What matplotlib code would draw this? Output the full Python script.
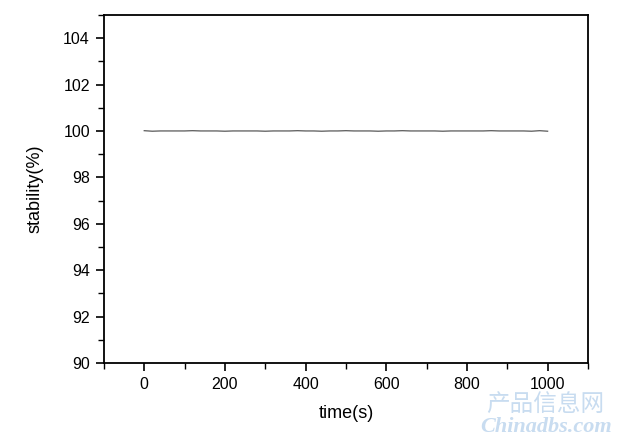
import numpy as np
import matplotlib.pyplot as plt
from matplotlib.ticker import MultipleLocator

# time (s) and stability (%)
time_s = [0, 20, 40, 60, 80, 100, 120, 140, 160, 180, 200, 220, 240, 260, 280,
          300, 320, 340, 360, 380, 400, 420, 440, 460, 480, 500, 520, 540, 560,
          580, 600, 620, 640, 660, 680, 700, 720, 740, 760, 780, 800, 820, 840,
          860, 880, 900, 920, 940, 960, 980, 1000]
stability = [100.01, 99.99, 100.00, 100.00, 100.00, 100.00, 100.01, 100.00, 100.00,
             100.00, 99.99, 100.00, 100.00, 100.00, 100.00, 99.99, 100.00, 100.00,
             100.00, 100.01, 100.00, 100.00, 99.99, 100.00, 100.00, 100.01, 100.00,
             100.00, 100.00, 99.99, 100.00, 100.00, 100.01, 100.00, 100.00, 100.00,
             100.00, 99.99, 100.00, 100.00, 100.00, 100.00, 100.00, 100.01, 100.00,
             100.00, 100.00, 100.00, 99.99, 100.01, 99.99]

plt.rcParams['font.family'] = ['Liberation Sans', 'DejaVu Sans']

fig = plt.figure(figsize=(6.33, 4.37), dpi=100)
ax = fig.add_axes([0.164, 0.169, 0.765, 0.797])
ax.plot(time_s, stability, color='#444444', lw=0.8)

ax.set_xlim(-100, 1100)
ax.set_ylim(90, 105)
ax.xaxis.set_minor_locator(MultipleLocator(100))
ax.yaxis.set_major_locator(MultipleLocator(2))
ax.yaxis.set_minor_locator(MultipleLocator(1))
ax.set_xticks([0, 200, 400, 600, 800, 1000])
ax.tick_params(which='major', direction='out', length=6, width=1.2, labelsize=11.5,
               colors='black', pad=4)
ax.tick_params(which='minor', direction='out', length=4, width=1.0)
for s in ax.spines.values():
    s.set_linewidth(1.3)

ax.set_xlabel('time(s)', fontsize=13, labelpad=9)
ax.set_ylabel('stability(%)', fontsize=13, labelpad=14)

# watermark
fig.text(0.862, 0.074, '产品信息网', family=['Noto Sans CJK SC', 'DejaVu Sans'],
         fontsize=17, color='#c8dcf0', ha='center', va='center')
fig.text(0.862, 0.022, 'Chinadbs.com', family=['Liberation Serif', 'DejaVu Serif'],
         fontsize=16, fontweight='bold', fontstyle='italic', color='#c8dcf0',
         ha='center', va='center')

fig.savefig('out.png', dpi=100)
